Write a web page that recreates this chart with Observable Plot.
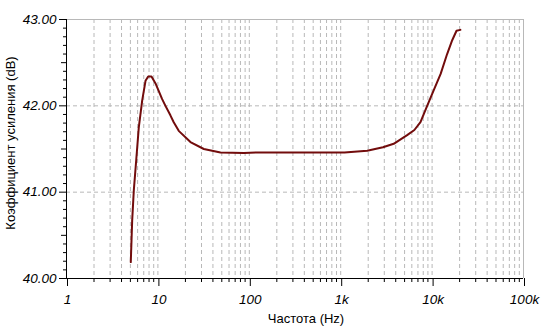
<!DOCTYPE html>
<html><head><meta charset="utf-8">
<script src="https://cdn.jsdelivr.net/npm/d3@7"></script>
<script src="https://cdn.jsdelivr.net/npm/@observablehq/plot@0.6"></script>
<style>
body{margin:0;background:#fff}
svg text{font-family:"Liberation Sans",Arial,sans-serif}
</style>
</head><body><div id="chart"></div>
<script>
// Frequency response
const freq = [5.05, 5.23, 5.45, 5.79, 6.18, 6.73, 7.32, 7.83, 8.51, 9.42, 11.1, 12.1, 13.7, 14.9, 16.9, 22.7, 31.8, 48.4, 87, 132, 300, 600, 1100, 1950, 2900, 3800, 5330, 6400, 7460, 8830, 10400, 12400, 14600, 16600, 18500, 20400];
const gain = [40.19, 40.67, 41.02, 41.37, 41.75, 42.06, 42.29, 42.34, 42.34, 42.26, 42.08, 42.0, 41.89, 41.81, 41.71, 41.58, 41.50, 41.46, 41.455, 41.46, 41.46, 41.46, 41.46, 41.48, 41.52, 41.56, 41.66, 41.72, 41.81, 42.0, 42.18, 42.37, 42.60, 42.76, 42.87, 42.88];

const xMajor = [1, 10, 100, 1000, 10000, 100000];
const xMajorLabels = ["1", "10", "100", "1k", "10k", "100k"];
const xMinor = [1, 10, 100, 1000, 10000].flatMap(d => [2,3,4,5,6,7,8,9].map(k => k * d));
const yMajor = [40, 41, 42, 43];
const yMinor = d3.range(40, 43.001, 0.1).map(v => +v.toFixed(1)).filter(v => !yMajor.includes(v) && Math.abs(v % 1 - 0.5) > 1e-6);
const yMid = [40.5, 41.5, 42.5];
const xTitle = "Частота (Hz)";
const yTitle = "Коэффициент усиления (dB)";

const data = freq.map((f, i) => ({f, g: gain[i]}));
const labelOf = new Map(xMajor.map((v, i) => [v, xMajorLabels[i]]));

const chart = Plot.plot({
  width: 546,
  height: 336,
  marginLeft: 66,
  marginRight: 23,
  marginTop: 19,
  marginBottom: 58,
  style: {fontFamily: "Liberation Sans, Arial, sans-serif", fontSize: "13px", background: "#fff"},
  x: {type: "log", domain: [1, 100000]},
  y: {domain: [40, 43]},
  marks: [
    Plot.ruleX([...xMinor, 10, 100, 1000, 10000], {stroke: "#b8b8b8", strokeDasharray: "4,3", strokeWidth: 1}),
    Plot.ruleY([41, 42], {stroke: "#b8b8b8", strokeDasharray: "4,3", strokeWidth: 1}),
    Plot.ruleY([43], {stroke: "#b8b8b8", strokeWidth: 1}),
    Plot.ruleX([100000], {stroke: "#b8b8b8", strokeWidth: 1}),
    Plot.axisX({ticks: xMinor, tickSize: 4, tickFormat: () => "", label: null, stroke: "#000"}),
    Plot.axisX({ticks: xMajor, tickSize: 8, tickPadding: 8, tickFormat: d => labelOf.get(d), label: null, fontStyle: "italic", fontSize: 13.5, fill: "#000", stroke: "#000", dx: 1}),
    Plot.axisY({ticks: yMinor, tickSize: 3, tickFormat: () => "", label: null, stroke: "#000"}),
    Plot.axisY({ticks: yMid, tickSize: 5, tickFormat: () => "", label: null, stroke: "#000"}),
    Plot.axisY({ticks: yMajor, tickSize: 7, tickPadding: 3, tickFormat: d => d.toFixed(2), label: null, fontStyle: "italic", fontSize: 13.5, fill: "#000", stroke: "#000"}),
    Plot.ruleY([40], {stroke: "#000", strokeWidth: 1}),
    Plot.ruleX([1], {stroke: "#000", strokeWidth: 1}),
    Plot.line(data, {x: "f", y: "g", stroke: "#720c0c", strokeWidth: 2}),
    Plot.text([xTitle], {frameAnchor: "bottom", dy: 40, dx: 11, lineAnchor: "middle", fontSize: 13, fill: "#000"}),
    Plot.text([yTitle], {frameAnchor: "left", rotate: -90, dx: -56, dy: -6, lineAnchor: "middle", textAnchor: "middle", fontSize: 13, fill: "#000"})
  ]
});
document.getElementById("chart").appendChild(chart);
</script>
</body></html>
